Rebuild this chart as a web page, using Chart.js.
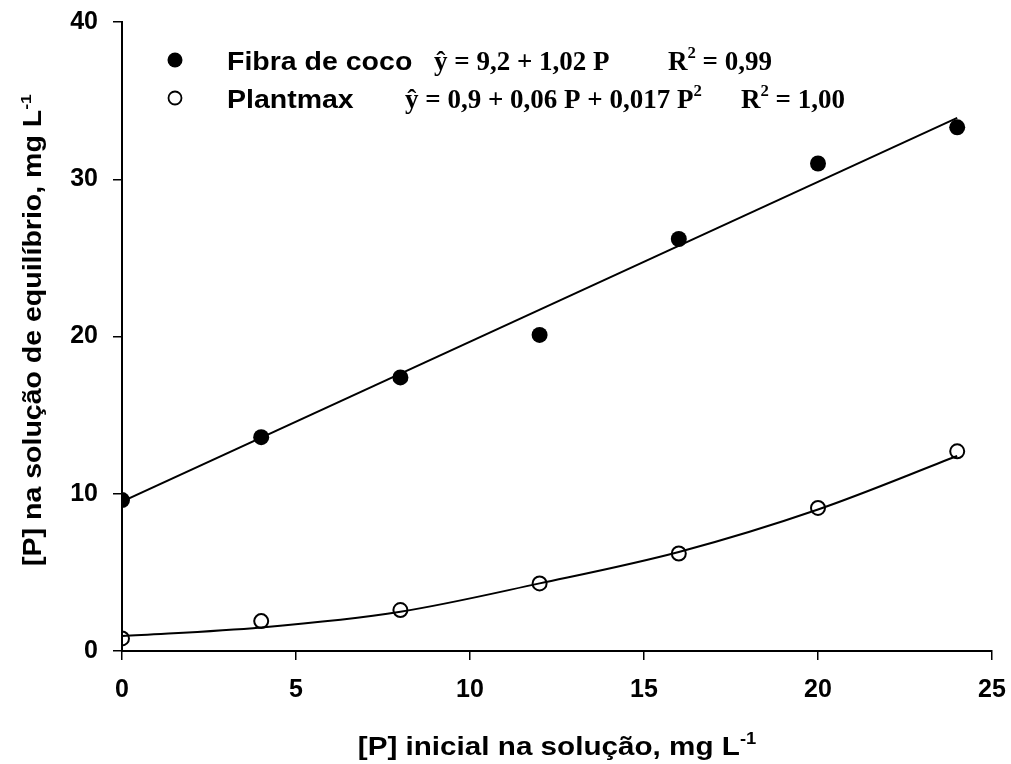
<!DOCTYPE html>
<html>
<head>
<meta charset="utf-8">
<script src="https://cdn.jsdelivr.net/npm/chart.js@4.4.0/dist/chart.umd.min.js"></script>
<style>
  body { margin: 0; background: #fff; }
  #caixa { width: 1011px; height: 764px; }
</style>
</head>
<body>
<div id="caixa"><canvas id="grafico"></canvas></div>
<script>
// Dados
const doses = [0, 4, 8, 12, 16, 20, 24];
const fibraCoco = [9.6, 13.6, 17.4, 20.1, 26.2, 31.0, 33.3];
const plantmax = [0.8, 1.9, 2.6, 4.3, 6.2, 9.1, 12.7];
const dosesRetaFibra = [0, 24];
const ajusteFibra = [9.5, 33.9];
const ajustePlantmax = [0.95, 1.5, 2.5, 4.3, 6.3, 9.0, 12.4];
const ticksX = [0, 5, 10, 15, 20, 25];
const ticksY = [0, 10, 20, 30, 40];

const arial = '"Liberation Sans", Arial, sans-serif';
const times = '"Liberation Serif", "Times New Roman", serif';
const estica = 1.14; // o Arial do original é mais largo

const pares = (xs, ys) => xs.map((x, i) => ({ x: x, y: ys[i] }));

// Texto com sobrescritos, desenhado em sequência
function textoRico(ctx, x, y, partes, sx) {
  ctx.save();
  ctx.translate(x, y);
  ctx.scale(sx, 1);
  let cx = 0;
  partes.forEach(p => {
    const tam = p.sup ? p.tam * 0.62 : p.tam;
    ctx.font = `bold ${tam}px ${p.fam}`;
    ctx.fillText(p.t, cx, p.sup ? -p.tam * 0.42 : 0);
    cx += ctx.measureText(p.t).width;
  });
  ctx.restore();
  return cx * sx;
}

function larguraRica(ctx, partes) {
  let w = 0;
  partes.forEach(p => {
    const tam = p.sup ? p.tam * 0.62 : p.tam;
    ctx.font = `bold ${tam}px ${p.fam}`;
    w += ctx.measureText(p.t).width;
  });
  return w;
}

const textos = {
  id: "textos",
  afterDraw(chart) {
    const ctx = chart.ctx;
    ctx.save();
    ctx.fillStyle = "#000";
    ctx.strokeStyle = "#000";
    ctx.textBaseline = "alphabetic";
    ctx.textAlign = "left";

    // Legenda
    ctx.beginPath();
    ctx.arc(175, 60, 7.5, 0, Math.PI * 2);
    ctx.fill();
    ctx.beginPath();
    ctx.lineWidth = 1.8;
    ctx.arc(175, 98, 6.5, 0, Math.PI * 2);
    ctx.stroke();

    textoRico(ctx, 227, 69.5, [{ t: "Fibra de coco", tam: 25, fam: arial }], estica);
    textoRico(ctx, 434, 69.5, [{ t: "ŷ = 9,2 + 1,02 P", tam: 27, fam: times }], 1);
    textoRico(ctx, 668, 69.5, [
      { t: "R", tam: 27, fam: times },
      { t: "2", tam: 27, fam: times, sup: true },
      { t: " = 0,99", tam: 27, fam: times }
    ], 1);

    textoRico(ctx, 227, 107.5, [{ t: "Plantmax", tam: 25, fam: arial }], estica);
    textoRico(ctx, 405, 107.5, [
      { t: "ŷ = 0,9 + 0,06 P + 0,017 P", tam: 27, fam: times },
      { t: "2", tam: 27, fam: times, sup: true }
    ], 1);
    textoRico(ctx, 741, 107.5, [
      { t: "R", tam: 27, fam: times },
      { t: "2", tam: 27, fam: times, sup: true },
      { t: " = 1,00", tam: 27, fam: times }
    ], 1);

    // Título do eixo X
    const a = chart.chartArea;
    const tituloX = [
      { t: "[P] inicial na solução, mg L", tam: 26, fam: arial },
      { t: "-1", tam: 26, fam: arial, sup: true }
    ];
    const wx = larguraRica(ctx, tituloX) * estica;
    textoRico(ctx, (a.left + a.right) / 2 - wx / 2, 755, tituloX, estica);

    // Título do eixo Y
    const tituloY = [
      { t: "[P] na solução de equilíbrio, mg L", tam: 25, fam: arial },
      { t: "-1", tam: 25, fam: arial, sup: true }
    ];
    const wy = larguraRica(ctx, tituloY) * estica;
    ctx.translate(41, 330);
    ctx.rotate(-Math.PI / 2);
    textoRico(ctx, -wy / 2, 0, tituloY, estica);
    ctx.restore();
  }
};

// a área do gráfico fica fixa: sem folga extra dos rótulos
const semFolga = s => {
  s.paddingLeft = 0;
  s.paddingRight = 0;
  s.paddingTop = 0;
  s.paddingBottom = 0;
};

const eixo = (min, max, ticks, pad, extra) => Object.assign({
  type: "linear",
  min: min,
  max: max,
  afterBuildTicks: s => { s.ticks = ticks.map(v => ({ value: v })); },
  border: { display: true, color: "#000", width: 2 },
  grid: { drawOnChartArea: false, drawTicks: true, tickLength: 9, color: "#000", lineWidth: 1.5 },
  ticks: { color: "#000", padding: pad, font: { family: arial, size: 25, weight: "bold" } }
}, extra);

new Chart(document.getElementById("grafico"), {
  type: "scatter",
  data: {
    datasets: [
      {
        label: "Fibra de coco",
        data: pares(doses, fibraCoco),
        pointRadius: 8,
        pointBackgroundColor: "#000",
        pointBorderColor: "#000",
        pointBorderWidth: 0
      },
      {
        label: "Plantmax",
        data: pares(doses, plantmax),
        pointRadius: 7,
        pointBackgroundColor: "rgba(0,0,0,0)",
        pointBorderColor: "#000",
        pointBorderWidth: 2
      },
      {
        type: "line",
        label: "ajuste fibra",
        data: pares(dosesRetaFibra, ajusteFibra),
        borderColor: "#000",
        borderWidth: 2,
        pointRadius: 0,
        fill: false
      },
      {
        type: "line",
        label: "ajuste plantmax",
        data: pares(doses, ajustePlantmax),
        borderColor: "#000",
        borderWidth: 2,
        pointRadius: 0,
        cubicInterpolationMode: "monotone",
        fill: false
      }
    ]
  },
  options: {
    responsive: true,
    maintainAspectRatio: false,
    animation: false,
    layout: { padding: { top: 22, right: 19, left: 0, bottom: 0 } },
    plugins: { legend: { display: false }, tooltip: { enabled: false } },
    scales: {
      x: eixo(0, 25, ticksX, 15, {
        position: "bottom",
        afterFit: s => { s.height = 113; semFolga(s); }
      }),
      y: eixo(0, 40, ticksY, 15, {
        position: "left",
        afterFit: s => { s.width = 122; semFolga(s); }
      })
    }
  },
  plugins: [textos]
});
</script>
</body>
</html>
